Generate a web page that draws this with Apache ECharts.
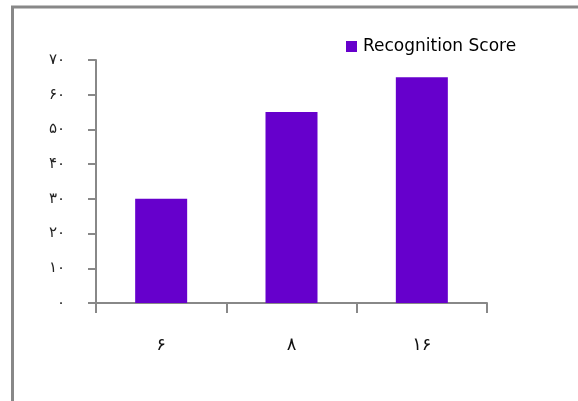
<!DOCTYPE html>
<html>
<head>
<meta charset="utf-8">
<script src="https://cdn.jsdelivr.net/npm/echarts@6/dist/echarts.min.js"></script>
<style>
html,body{margin:0;padding:0;background:#fff;}
#c{width:578px;height:401px;}
</style>
</head>
<body>
<div id="c"></div>
<script>
const categories = ['۶', '۸', '۱۶'];
const recognitionScore = [30, 55, 65];
const yTickLabels = ['۰', '۱۰', '۲۰', '۳۰', '۴۰', '۵۰', '۶۰', '۷۰'];
const seriesName = 'Recognition Score';

const chart = echarts.init(document.getElementById('c'), null, {renderer: 'canvas'});
chart.setOption({
  animation: false,
  backgroundColor: '#fff',
  graphic: [
    {type: 'polyline', shape: {points: [[12.5, 401], [12.5, 7], [578, 7]]}, style: {stroke: '#888', lineWidth: 3, fill: null}}
  ],
  legend: {
    left: 341, top: 33,
    itemWidth: 11, itemHeight: 11, itemGap: 10,
    icon: 'rect',
    textStyle: {fontFamily: 'DejaVu Sans', fontSize: 17, color: '#000', padding: [0, 0, 0, 1]},
    data: [seriesName]
  },
  grid: {left: 96, top: 60, right: 91, bottom: 98, containLabel: false},
  xAxis: {
    type: 'category',
    data: categories,
    axisLine: {lineStyle: {color: '#888', width: 2}},
    axisTick: {show: true, alignWithLabel: false, length: 10, lineStyle: {color: '#888', width: 2}},
    axisLabel: {margin: 33, fontFamily: 'DejaVu Sans', fontSize: 18, color: '#111'}
  },
  yAxis: {
    type: 'value',
    min: 0, max: 70, interval: 10,
    splitLine: {show: false},
    axisLine: {show: true, lineStyle: {color: '#888', width: 2}},
    axisTick: {show: true, length: 8, lineStyle: {color: '#888', width: 2}},
    axisLabel: {
      margin: 31, fontFamily: 'DejaVu Sans', fontSize: 15, color: '#222',
      formatter: v => yTickLabels[Math.round(v / 10)]
    }
  },
  series: [{
    name: seriesName,
    type: 'bar',
    data: recognitionScore,
    barWidth: 52,
    itemStyle: {color: '#6600CC'}
  }]
});
</script>
</body>
</html>
